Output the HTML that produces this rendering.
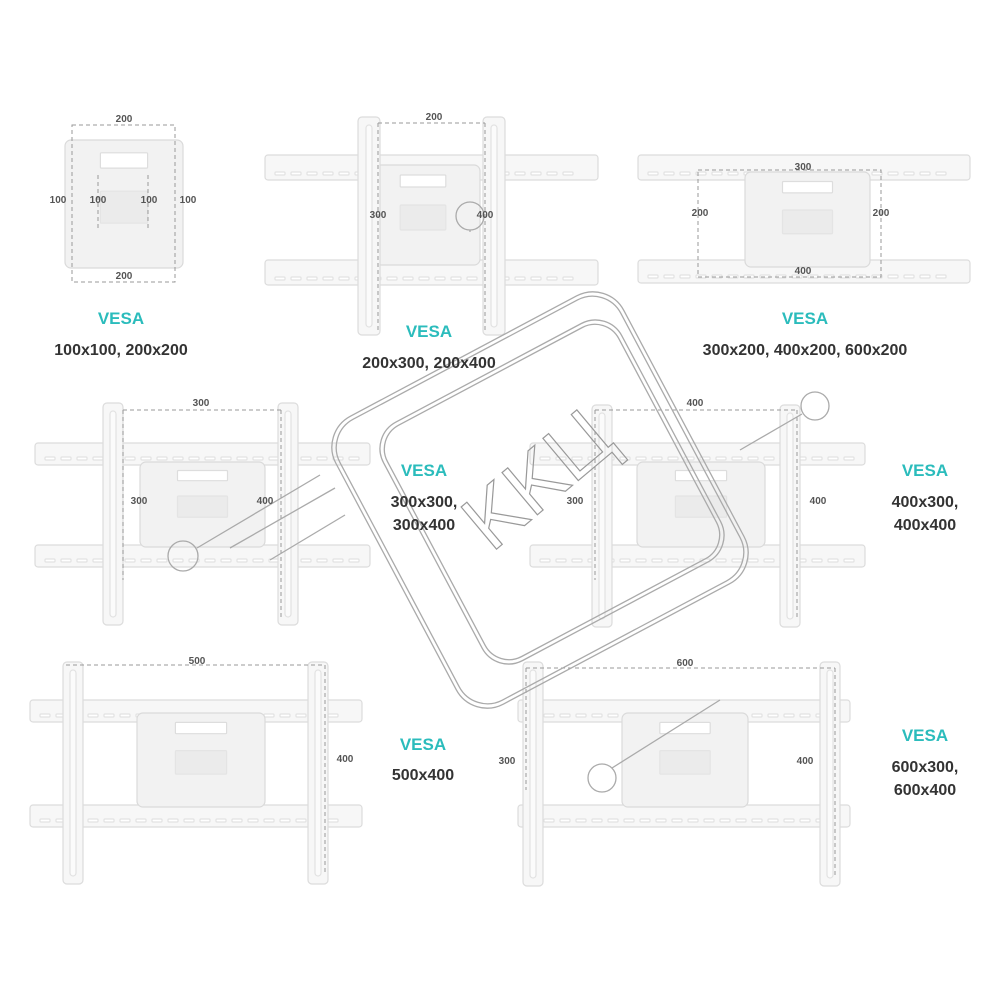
<!DOCTYPE html>
<html><head><meta charset="utf-8"><style>
html,body{margin:0;padding:0;background:#fff}
svg{display:block}
.d{font-family:"Liberation Sans",sans-serif;font-weight:bold;font-size:10px;fill:#555}
.v{font-family:"Liberation Sans",sans-serif;font-weight:bold;font-size:17px;fill:#2bbcbc}
.t{font-family:"Liberation Sans",sans-serif;font-weight:bold;font-size:16px;fill:#333}
.dash{stroke:#999;stroke-width:1;stroke-dasharray:4 3;fill:none}
</style></head><body>
<svg id="s" width="1000" height="1000" viewBox="0 0 1000 1000" xmlns="http://www.w3.org/2000/svg">
<g id="g"></g>
<g class="dash">
<rect x="72" y="125" width="103" height="157"/>
<line x1="98" y1="175" x2="98" y2="230"/><line x1="148" y1="175" x2="148" y2="230"/>
<line x1="378" y1="123" x2="485" y2="123"/><line x1="378" y1="123" x2="378" y2="330"/><line x1="485" y1="123" x2="485" y2="330"/>
<rect x="698" y="170" width="183" height="107"/>
<line x1="123" y1="410" x2="281" y2="410"/><line x1="123" y1="410" x2="123" y2="580"/><line x1="281" y1="410" x2="281" y2="618"/>
<line x1="595" y1="410" x2="797" y2="410"/><line x1="595" y1="410" x2="595" y2="580"/><line x1="797" y1="410" x2="797" y2="618"/>
<line x1="66" y1="665" x2="325" y2="665"/><line x1="325" y1="665" x2="325" y2="875"/>
<line x1="526" y1="668" x2="835" y2="668"/><line x1="526" y1="668" x2="526" y2="790"/><line x1="835" y1="668" x2="835" y2="875"/>
</g>
<g fill="none" stroke="#aaa" stroke-width="1.3">
<rect x="-163" y="-163" width="326" height="326" rx="35" transform="translate(540,500) rotate(-28)"/>
<rect x="-159" y="-159" width="318" height="318" rx="32" transform="translate(540,500) rotate(-28)"/>
<rect x="-135" y="-135" width="270" height="270" rx="30" transform="translate(552,492) rotate(-28)"/>
<rect x="-131" y="-131" width="262" height="262" rx="27" transform="translate(552,492) rotate(-28)"/>
<circle cx="183" cy="556" r="15"/><circle cx="470" cy="216" r="14"/><circle cx="815" cy="406" r="14"/><circle cx="602" cy="778" r="14"/>
<line x1="197" y1="548" x2="320" y2="475"/><line x1="230" y1="548" x2="335" y2="488"/><line x1="270" y1="560" x2="345" y2="515"/>
<line x1="612" y1="768" x2="720" y2="700"/><line x1="802" y1="414" x2="740" y2="450"/>
<line x1="470" y1="230" x2="470" y2="232"/>
</g>
<text x="555" y="500" transform="rotate(-40 555 500)" font-family="Liberation Sans,sans-serif" font-size="80" fill="none" stroke="#999" stroke-width="1.2" text-anchor="middle">KKЦ</text>
<text class="d" x="124" y="122" text-anchor="middle">200</text>
<text class="d" x="124" y="279" text-anchor="middle">200</text>
<text class="d" x="58" y="203" text-anchor="middle">100</text>
<text class="d" x="98" y="203" text-anchor="middle">100</text>
<text class="d" x="149" y="203" text-anchor="middle">100</text>
<text class="d" x="188" y="203" text-anchor="middle">100</text>
<text class="d" x="434" y="120" text-anchor="middle">200</text>
<text class="d" x="378" y="218" text-anchor="middle">300</text>
<text class="d" x="485" y="218" text-anchor="middle">400</text>
<text class="d" x="803" y="170" text-anchor="middle">300</text>
<text class="d" x="803" y="274" text-anchor="middle">400</text>
<text class="d" x="700" y="216" text-anchor="middle">200</text>
<text class="d" x="881" y="216" text-anchor="middle">200</text>
<text class="d" x="201" y="406" text-anchor="middle">300</text>
<text class="d" x="139" y="504" text-anchor="middle">300</text>
<text class="d" x="265" y="504" text-anchor="middle">400</text>
<text class="d" x="695" y="406" text-anchor="middle">400</text>
<text class="d" x="575" y="504" text-anchor="middle">300</text>
<text class="d" x="818" y="504" text-anchor="middle">400</text>
<text class="d" x="197" y="664" text-anchor="middle">500</text>
<text class="d" x="345" y="762" text-anchor="middle">400</text>
<text class="d" x="685" y="666" text-anchor="middle">600</text>
<text class="d" x="507" y="764" text-anchor="middle">300</text>
<text class="d" x="805" y="764" text-anchor="middle">400</text>
<text class="v" x="121" y="324" text-anchor="middle">VESA</text>
<text class="t" x="121" y="355" text-anchor="middle">100x100, 200x200</text>
<text class="v" x="429" y="337" text-anchor="middle">VESA</text>
<text class="t" x="429" y="368" text-anchor="middle">200x300, 200x400</text>
<text class="v" x="805" y="324" text-anchor="middle">VESA</text>
<text class="t" x="805" y="355" text-anchor="middle">300x200, 400x200, 600x200</text>
<text class="v" x="424" y="476" text-anchor="middle">VESA</text>
<text class="t" x="424" y="507" text-anchor="middle">300x300,</text>
<text class="t" x="424" y="530" text-anchor="middle">300x400</text>
<text class="v" x="925" y="476" text-anchor="middle">VESA</text>
<text class="t" x="925" y="507" text-anchor="middle">400x300,</text>
<text class="t" x="925" y="530" text-anchor="middle">400x400</text>
<text class="v" x="423" y="750" text-anchor="middle">VESA</text>
<text class="t" x="423" y="780" text-anchor="middle">500x400</text>
<text class="v" x="925" y="741" text-anchor="middle">VESA</text>
<text class="t" x="925" y="772" text-anchor="middle">600x300,</text>
<text class="t" x="925" y="795" text-anchor="middle">600x400</text>
</svg>
<script>
var g=document.getElementById('g'),NS='http://www.w3.org/2000/svg';
function r(x,y,w,h,rx,f,s){var e=document.createElementNS(NS,'rect');e.setAttribute('x',x);e.setAttribute('y',y);e.setAttribute('width',w);e.setAttribute('height',h);e.setAttribute('rx',rx);e.setAttribute('fill',f||'#f7f7f7');e.setAttribute('stroke',s||'#dcdcdc');e.setAttribute('stroke-width','1.2');g.appendChild(e);}
function rail(x,y,w,h){r(x,y,w,h,3);for(var i=x+10;i<x+w-20;i+=16)r(i,y+h-8,10,3,1,'#fff','#e2e2e2');}
function arm(x,y,w,h){r(x,y,w,h,4);r(x+w/2-3,y+8,6,h-16,3,'#fbfbfb','#e2e2e2');}
function plate(x,y,w,h){r(x,y,w,h,6,'#f2f2f2','#dadada');r(x+w*0.3,y+h*0.1,w*0.4,h*0.12,1,'#fff','#ddd');r(x+w*0.3,y+h*0.4,w*0.4,h*0.25,1,'#ebebeb','#e4e4e4');}
plate(65,140,118,128);
rail(265,155,333,25);rail(265,260,333,25);plate(366,165,114,100);arm(358,117,22,218);arm(483,117,22,218);
rail(638,155,332,25);rail(638,260,332,23);plate(745,172,125,95);
rail(35,443,335,22);rail(35,545,335,22);plate(140,462,125,85);arm(103,403,20,222);arm(278,403,20,222);
rail(530,443,335,22);rail(530,545,335,22);plate(637,462,128,85);arm(592,405,20,222);arm(780,405,20,222);
rail(30,700,332,22);rail(30,805,332,22);plate(137,713,128,94);arm(63,662,20,222);arm(308,662,20,222);
rail(518,700,332,22);rail(518,805,332,22);plate(622,713,126,94);arm(523,662,20,224);arm(820,662,20,224);
</script>
</body></html>
